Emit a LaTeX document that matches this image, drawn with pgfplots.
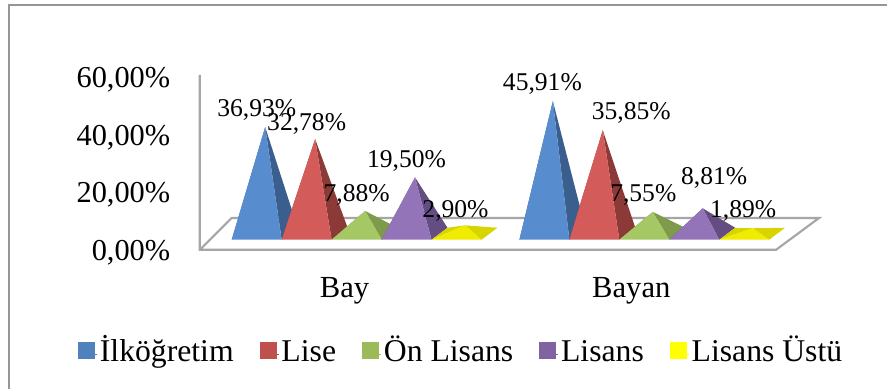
\documentclass[border=0pt]{standalone}
\usepackage{pgfplots}
\pgfplotsset{compat=1.18}
\usepackage{fontspec}
\setmainfont{Liberation Serif}
\definecolor{frameGray}{HTML}{969696}
\definecolor{wallGray}{HTML}{A6A6A6}
\definecolor{blueF}{HTML}{578CCE}\definecolor{blueS}{HTML}{3A5F8E}
\definecolor{redF}{HTML}{D35B59}\definecolor{redS}{HTML}{8C3A38}
\definecolor{greenF}{HTML}{A6C864}\definecolor{greenS}{HTML}{7E9B4C}
\definecolor{purpleF}{HTML}{9474B8}\definecolor{purpleS}{HTML}{644D82}
\definecolor{yellowF}{HTML}{F0EC00}\definecolor{yellowS}{HTML}{D8D400}
\definecolor{blueL}{HTML}{4F81BD}\definecolor{redL}{HTML}{C0504D}
\definecolor{greenL}{HTML}{9BBB59}\definecolor{purpleL}{HTML}{8064A2}
\definecolor{yellowL}{HTML}{FFFF00}
% 1 drawing pixel = 0.75pt; y data are percent at 2.89 px per percent
\newcommand{\pyramid}[4]{% left x, value, front colour, side colour
  \pgfmathsetmacro{\ax}{#1+33.5}
  \pgfmathsetmacro{\ay}{#2+5.54}
  \pgfmathsetmacro{\rx}{#1+50}
  \pgfmathsetmacro{\bx}{#1+66}
  \pgfmathsetmacro{\cx}{#1+16}
  \addplot[forget plot,draw=none,fill=#4] coordinates {(#1,3.46) (\cx,7.61) (\ax,\ay) (#1,3.46)};
  \addplot[forget plot,draw=none,fill=#4] coordinates {(\rx,3.46) (\bx,7.61) (\ax,\ay) (\rx,3.46)};
  \addplot[forget plot,draw=none,fill=#3] coordinates {(#1,3.46) (\rx,3.46) (\ax,\ay) (#1,3.46)};
}
\newcommand{\vallabel}[3]{\node[font=\fontsize{19.2pt}{20pt}\selectfont,inner sep=0pt] at (axis cs:#1,#2) {#3};}
\begin{document}
\begin{tikzpicture}[x=0.75pt,y=0.75pt]
% page background and the visible top and left edges of the chart frame
\path[fill=white] (0,0) rectangle (888,389);
\draw[frameGray,line width=1.5pt] (9,0) -- (9,384) -- (888,384);
\begin{axis}[
  at={(200*0.75pt,139*0.75pt)}, anchor=south west,
  scale only axis, width=465pt, height=131.25pt,
  xmin=200, xmax=820, ymin=0, ymax=60.55,
  clip=false,
  axis line style={draw=none},
  tick style={draw=none},
  xtick={345,632}, xticklabels={Bay,Bayan},
  ytick={0,20,40,60},
  yticklabels={{0,00\%},{20,00\%},{40,00\%},{60,00\%}},
  yticklabel style={font=\fontsize{22.8pt}{24pt}\selectfont,inner xsep=0pt,xshift=-22pt,yshift=-2.4pt},
  xticklabel style={font=\fontsize{23pt}{24pt}\selectfont,inner ysep=0pt,yshift=-20.5pt},
  legend columns=5,
  legend style={draw=none,fill=none,at={(axis cs:462,-36.2)},anchor=center,
    font=\fontsize{23.8pt}{25pt}\selectfont,
    nodes={text height=16.5pt,text depth=5.5pt},
    /tikz/every even column/.append style={column sep=17.5pt}},
  legend image code/.code={\fill[#1] (0pt,-3.2pt) rectangle (12pt,8.8pt);\path (0pt,0pt) -- (14pt,0pt);},
]
% walls and floor of the 3-D plot area
\addplot[forget plot,wallGray,line width=1.6pt] coordinates {(200,60.55) (200,0) (777,0) (820,11) (232,11) (200,0)};
% Bay
\pyramid{232}{36.93}{blueF}{blueS}
\pyramid{282}{32.78}{redF}{redS}
\pyramid{332}{7.88}{greenF}{greenS}
\pyramid{382}{19.50}{purpleF}{purpleS}
\pyramid{432}{2.90}{yellowF}{yellowS}
% Bayan
\pyramid{520}{45.91}{blueF}{blueS}
\pyramid{570}{35.85}{redF}{redS}
\pyramid{620}{7.55}{greenF}{greenS}
\pyramid{670}{8.81}{purpleF}{purpleS}
\pyramid{720}{1.89}{yellowF}{yellowS}
% value labels
\vallabel{257}{48.5}{36,93\%}
\vallabel{307}{43.6}{32,78\%}
\vallabel{357}{19.1}{7,88\%}
\vallabel{407}{30.8}{19,50\%}
\vallabel{456}{13.5}{2,90\%}
\vallabel{543}{57.5}{45,91\%}
\vallabel{632}{47.4}{35,85\%}
\vallabel{644}{19.1}{7,55\%}
\vallabel{715}{25}{8,81\%}
\vallabel{744}{13.5}{1,89\%}
% legend
\addlegendimage{blueL}\addlegendentry{İlköğretim}
\addlegendimage{redL}\addlegendentry{Lise}
\addlegendimage{greenL}\addlegendentry{Ön Lisans}
\addlegendimage{purpleL}\addlegendentry{Lisans}
\addlegendimage{yellowL}\addlegendentry{Lisans Üstü}
\end{axis}
\end{tikzpicture}
\end{document}
